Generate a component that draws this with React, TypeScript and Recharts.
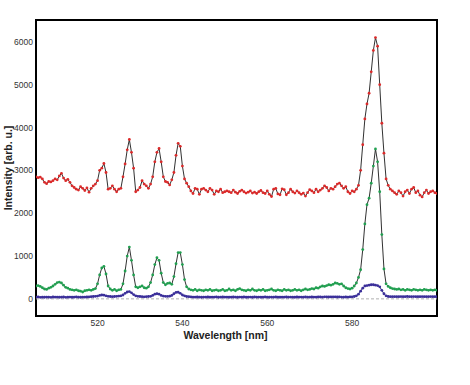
import React from "react";
import { LineChart, Line, XAxis, YAxis, ReferenceLine, ReferenceArea } from "recharts";

// wavelength grid (nm), 0.5 nm sampling from 505.5 to 600
const wavelengthStart = 505.5;
const wavelengthStep = 0.5;

const redSeries = [
  2850, 2830, 2840, 2800, 2720, 2690, 2740, 2730, 2760, 2800,
  2780, 2870, 2930, 2820, 2760, 2790, 2720, 2640, 2600, 2560,
  2540, 2620, 2580, 2530, 2590, 2490, 2580, 2640, 2680, 2760,
  3000, 3050, 3160, 2950, 2560, 2580, 2640, 2560, 2500, 2560,
  2580, 2850, 3150, 3480, 3720, 3420, 3050, 2500, 2540, 2600,
  2760, 2680, 2640, 2580, 2680, 2850, 3200, 3420, 3510, 3200,
  2850, 2740, 2720, 2660, 2780, 2950, 3350, 3630, 3560, 3100,
  2800, 2700, 2620, 2520, 2460, 2580, 2560, 2440, 2560, 2580,
  2540, 2500, 2580, 2540, 2440, 2520, 2500, 2560, 2480, 2500,
  2520, 2500, 2480, 2540, 2490, 2460, 2510, 2540, 2500, 2470,
  2490, 2520, 2470, 2490, 2460, 2500, 2530, 2480, 2460, 2520,
  2440, 2390, 2560, 2580, 2450, 2430, 2570, 2550, 2430, 2480,
  2560, 2500, 2470, 2520, 2480, 2440, 2470, 2400, 2480, 2550,
  2520, 2480, 2560, 2500, 2540, 2580, 2640, 2600, 2520, 2580,
  2560, 2620, 2680, 2700, 2640, 2580, 2620, 2500, 2460, 2520,
  2500, 2560, 2650, 3000, 3600, 4200, 4550, 4800, 5300, 5800,
  6100, 5900, 5000, 4100, 3400, 2800, 2650, 2560, 2520, 2480,
  2440, 2520, 2480, 2400, 2500, 2540, 2460, 2560, 2600, 2480,
  2520, 2420, 2380, 2480, 2540, 2460, 2500, 2520, 2480, 2460,
];

const greenSeries = [
  300, 310, 290, 260, 230, 220, 250, 270, 300, 340,
  380, 390, 370, 320, 270, 250, 220, 210, 200, 210,
  190, 180, 160, 190, 200, 210, 200, 220, 240, 350,
  560, 720, 760, 580, 300, 230, 200, 220, 190, 210,
  220, 350, 650, 1000, 1210, 900, 560, 280, 260, 280,
  300, 260, 250, 280, 380, 560, 800, 960, 900, 600,
  380, 330, 360, 370, 340, 520, 820, 1080, 1080, 800,
  450, 280, 230, 210, 200, 220, 190, 210, 200, 190,
  210, 200, 220, 190, 200, 210, 190, 200, 220, 190,
  200, 230, 200, 210, 190, 220, 240, 210, 200, 190,
  210, 200, 230, 200, 190, 210, 200, 220, 190, 200,
  210, 230, 200, 190, 210, 200, 190, 220, 200, 210,
  190, 200, 220, 200, 210, 190, 210, 230, 210, 220,
  240, 230, 260, 250, 280, 300, 290, 310, 330, 320,
  340, 370, 360, 340, 350, 300, 260, 240, 230, 250,
  300, 370, 500, 680, 1150, 1750, 2200, 2350, 2700, 3100,
  3500, 3200, 2500, 1500, 700, 350, 290, 260, 240, 230,
  220, 230, 210, 220, 200, 220, 210, 200, 220, 210,
  200, 210, 200, 220, 210, 200, 210, 200, 210, 200,
];

const blueSeries = [
  40, 45, 35, 40, 38, 42, 40, 36, 44, 40,
  42, 38, 40, 44, 36, 40, 42, 38, 40, 45,
  40, 38, 42, 40, 44, 46, 50, 55, 60, 65,
  80, 90, 85, 70, 60, 55, 50, 55, 60, 65,
  70, 90, 130, 160, 170, 140, 100, 70, 60, 55,
  50, 48, 52, 55, 60, 80, 110, 120, 110, 80,
  65, 60, 58, 62, 80, 120, 150, 155, 130, 90,
  70, 55, 50, 45, 42, 40, 44, 40, 38, 42,
  40, 44, 38, 42, 40, 45, 38, 40, 44, 40,
  42, 38, 40, 44, 40, 38, 42, 40, 44, 38,
  40, 42, 38, 44, 40, 42, 38, 40, 44, 40,
  38, 42, 40, 44, 40, 38, 42, 40, 44, 40,
  42, 40, 38, 44, 40, 42, 40, 44, 42, 40,
  44, 42, 40, 46, 44, 42, 48, 45, 44, 46,
  48, 46, 44, 45, 42, 40, 44, 42, 46, 48,
  55, 70, 110, 180, 250, 300, 310, 320, 330, 330,
  320, 310, 280, 200, 120, 70, 55, 50, 52, 50,
  52, 50, 54, 50, 52, 55, 50, 52, 54, 50,
  52, 50, 54, 52, 50, 52, 54, 50, 52, 50,
];

const xTicks = [520, 540, 560, 580];
const yTicks = [0, 1000, 2000, 3000, 4000, 5000, 6000];
const xDomain: [number, number] = [505.5, 600];
const yDomain: [number, number] = [-400, 6510];

const data = redSeries.map((r, i) => ({
  w: wavelengthStart + i * wavelengthStep,
  red: r,
  green: greenSeries[i],
  blue: blueSeries[i],
}));

const FONT = "'Liberation Sans', Arial, sans-serif";

const XTitle = (props: any) => {
  const vb = props.viewBox || {};
  return (
    <text
      x={vb.x + vb.width / 2 - 11}
      y={vb.y + 23}
      textAnchor="middle"
      fontFamily={FONT}
      fontWeight="bold"
      fontSize={10.5}
      fill="#222"
    >
      Wavelength [nm]
    </text>
  );
};

const YTitle = (props: any) => {
  const vb = props.viewBox || {};
  const cx = vb.x + 8;
  const cy = vb.y + vb.height / 2;
  return (
    <text
      x={cx}
      y={cy}
      transform={`rotate(-90, ${cx}, ${cy})`}
      textAnchor="middle"
      dominantBaseline="central"
      fontFamily={FONT}
      fontWeight="bold"
      fontSize={10.5}
      fill="#222"
    >
      Intensity [arb. u.]
    </text>
  );
};

const tickStyle = { fontFamily: FONT, fontSize: 8.5, fill: "#333" };

export default function App() {
  return (
    <div style={{ position: "absolute", left: 0, top: 0, width: 470, height: 385, background: "#fff" }}>
      <LineChart width={470} height={385} data={data} margin={{ top: 20, right: 33, bottom: 39, left: 0 }}>
        <XAxis
          dataKey="w"
          type="number"
          domain={xDomain}
          allowDataOverflow
          ticks={xTicks}
          axisLine={false}
          tickLine={false}
          tickSize={0}
          tickMargin={4}
          height={30}
          tick={tickStyle}
          label={<XTitle />}
        />
        <YAxis
          type="number"
          domain={yDomain}
          allowDataOverflow
          ticks={yTicks}
          axisLine={false}
          tickLine={false}
          tickSize={0}
          tickMargin={3}
          width={36}
          tick={tickStyle}
          label={<YTitle />}
        />
        <ReferenceLine y={0} stroke="#b0b0b0" strokeDasharray="3 2" strokeWidth={1} />
        <Line
          dataKey="red"
          stroke="#1a1a1a"
          strokeWidth={0.9}
          dot={{ r: 1.4, fill: "#dc2a2a", stroke: "none" }}
          activeDot={false}
          isAnimationActive={false}
        />
        <Line
          dataKey="green"
          stroke="#1a1a1a"
          strokeWidth={0.9}
          dot={{ r: 1.4, fill: "#20a050", stroke: "none" }}
          activeDot={false}
          isAnimationActive={false}
        />
        <Line
          dataKey="blue"
          stroke="#1e1a66"
          strokeWidth={0.9}
          dot={{ r: 1.4, fill: "#3b2f9a", stroke: "none" }}
          activeDot={false}
          isAnimationActive={false}
        />
        <ReferenceArea
          x1={xDomain[0]}
          x2={xDomain[1]}
          y1={yDomain[0]}
          y2={yDomain[1]}
          fill="none"
          fillOpacity={0}
          stroke="#000"
          strokeWidth={2}
          ifOverflow="visible"
        />
      </LineChart>
    </div>
  );
}
